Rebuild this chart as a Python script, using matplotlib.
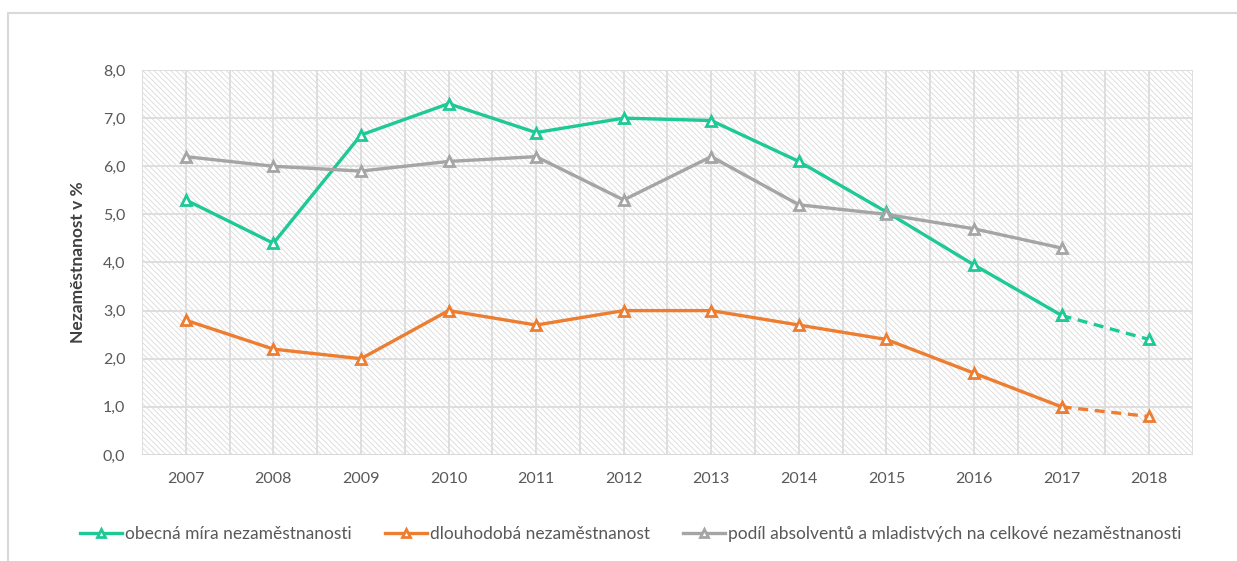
import numpy as np
import matplotlib.pyplot as plt
from matplotlib.patches import Rectangle
from matplotlib.lines import Line2D

years = ['2007', '2008', '2009', '2010', '2011', '2012', '2013', '2014', '2015', '2016', '2017', '2018']
obecna = [5.3, 4.4, 6.65, 7.3, 6.7, 7.0, 6.95, 6.1, 5.05, 3.95, 2.9, 2.4]
dlouhodoba = [2.8, 2.2, 2.0, 3.0, 2.7, 3.0, 3.0, 2.7, 2.4, 1.7, 1.0, 0.8]
absolventi = [6.2, 6.0, 5.9, 6.1, 6.2, 5.3, 6.2, 5.2, 5.0, 4.7, 4.3]
labels = ['obecná míra nezaměstnanosti', 'dlouhodobá nezaměstnanost',
          'podíl absolventů a mladistvých na celkové nezaměstnanosti']
colors = ['#1ec995', '#ed7d31', '#a5a5a5']

plt.rcParams['font.family'] = ['Lato', 'DejaVu Sans']
plt.rcParams['hatch.color'] = '#dadada'
plt.rcParams['hatch.linewidth'] = 0.6

fig = plt.figure(figsize=(12.37, 5.61), dpi=100)
ax = fig.add_axes([0.1148, 0.189, 0.8496, 0.6862])

# pozadí se šrafováním
ax.patch.set_facecolor('white')
ax.patch.set_hatch('\\\\\\\\\\\\')
ax.patch.set_edgecolor('#dadada')
ax.patch.set_linewidth(0)

x = np.arange(len(years))
mk = dict(marker='^', markersize=7.5, markerfacecolor='white', markeredgewidth=2)
lw = 2.4

# plné úseky do 2017, přerušované 2017-2018
ax.plot(x[:11], obecna[:11], color=colors[0], lw=lw, zorder=3, **mk)
ax.plot(x[10:], obecna[10:], color=colors[0], lw=lw, ls=(0, (3, 2)), zorder=3, **mk)
ax.plot(x[:11], dlouhodoba[:11], color=colors[1], lw=lw, zorder=3, **mk)
ax.plot(x[10:], dlouhodoba[10:], color=colors[1], lw=lw, ls=(0, (3, 2)), zorder=3, **mk)
ax.plot(x[:len(absolventi)], absolventi, color=colors[2], lw=lw, zorder=3, **mk)

ax.set_xlim(-0.5, len(years) - 0.5)
ax.set_ylim(0, 8)
ax.set_xticks(x)
ax.set_xticklabels(years)
ax.set_xticks(np.arange(-0.5, len(years), 0.5), minor=True)
ax.set_yticks(np.arange(0, 8.1, 1))
ax.yaxis.set_major_formatter(plt.FuncFormatter(lambda v, p: f'{v:.1f}'.replace('.', ',')))
ax.tick_params(which='both', length=0, labelsize=11.5, labelcolor='#595959')
ax.tick_params(axis='x', pad=12)
ax.tick_params(axis='y', pad=12)
ax.grid(True, axis='y', color='#dedede', lw=1.4, zorder=1)
ax.grid(True, axis='x', which='both', color='#dedede', lw=1.4, zorder=1)
ax.set_axisbelow(True)
for s in ax.spines.values():
    s.set_visible(False)
ax.axhline(0, color='#d9d9d9', lw=1.4, zorder=2)

ax.set_ylabel('Nezaměstnanost v %', fontsize=12.5, fontweight='bold', color='#404040')
ax.yaxis.set_label_coords(-0.053, 0.5)

handles = [Line2D([], [], color=c, lw=lw, marker='^', markersize=6,
                  markerfacecolor='white', markeredgewidth=2) for c in colors]
fig.legend(handles, labels, loc='center', bbox_to_anchor=(0.51, 0.048), ncol=3,
           frameon=False, fontsize=12.5, labelcolor='#595959', handlelength=2.4,
           handletextpad=0.2, columnspacing=1.9)

# rámeček grafu
fig.add_artist(Rectangle((8 / 1237, -0.2), 1.2, 1.2 - 13 / 561, transform=fig.transFigure,
                         fill=False, ec='#d9d9d9', lw=1.5))

plt.savefig('out.png', dpi=100)
